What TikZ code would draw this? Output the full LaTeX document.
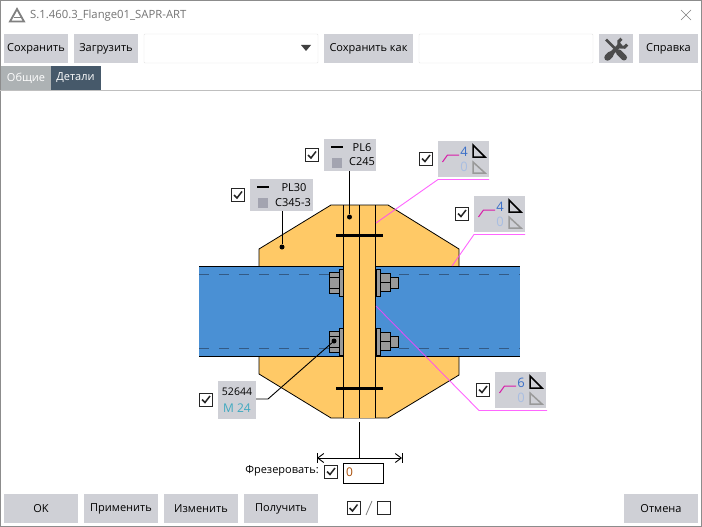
\documentclass[tikz,border=0pt]{standalone}
\usepackage{fontspec}
\setmainfont{Open Sans}
\usetikzlibrary{arrows.meta}
\definecolor{botongris}{HTML}{CFD0D6}
\definecolor{amarillo}{HTML}{FFC966}
\definecolor{azul}{HTML}{4A90D4}
\definecolor{magenta}{HTML}{FF40FF}
\definecolor{pizarra}{HTML}{46596A}
\definecolor{acero}{HTML}{A3A4B0}
\definecolor{trazo}{HTML}{335A85}
\definecolor{fucsia}{HTML}{D81BA8}
\definecolor{azulnum}{HTML}{3A6FC8}
\definecolor{azulclaro}{HTML}{A9BEE2}
\definecolor{turquesa}{HTML}{3FA9C0}
\definecolor{naranja}{HTML}{A84E08}
\tikzset{
	boton/.style={fill=botongris,inner sep=0pt,minimum height=29,font=\fontsize{11}{13}\selectfont,text=black},
	campo/.style={draw=black!10,fill=white,inner sep=0pt,rounded corners=1pt,minimum height=29},
	pestana/.style={inner sep=0pt,minimum height=24,minimum width=50,text=white,font=\fontsize{11}{13}\selectfont},
	caja/.style={fill=botongris,inner sep=0pt},
	casilla/.style={draw=black!85,line width=.8pt,fill=white,inner sep=0pt,minimum size=13},
	rotulo/.style={inner sep=0pt,font=\fontsize{11}{13}\selectfont,text=black},
	chapa/.style={draw=black,line width=.8pt,fill=amarillo},
	perno/.style={draw=black,line width=1pt,fill=black!40},
	guia/.style={magenta,line width=.9pt,opacity=.8},
	lider/.style={black,line width=.9pt},
	punto/.style={circle,fill=black,inner sep=0pt,minimum size=5},
	sello/.style={inner sep=0pt,font=\fontsize{13}{15}\selectfont}
}
\newcommand{\casillero}[3]{
	\node[casilla] (#1) at (#2,#3) {};
	\draw[line width=1.5pt,black!85] ([shift={(-4,0)}]#1.center) -- ([shift={(-1,3)}]#1.center) -- ([shift={(4,-3.5)}]#1.center);
}
\newcommand{\soldadura}[5]{
	\node[caja,minimum width=51,minimum height=36] (#1) at (#2,#3) {};
	\draw[fucsia,line width=1pt] ([shift={(-21,3)}]#1.center) -- ([shift={(-16,-4)}]#1.center) -- ([shift={(-4.5,-4)}]#1.center);
	\node[sello,text=azulnum] (#1a) at ([shift={(0.5,-7)}]#1.center) {#4};
	\node[sello,text=azulclaro] (#1b) at ([shift={(0.5,8)}]#1.center) {#5};
	\draw[black,line width=1.5pt] ([shift={(9.5,-14)}]#1.center) -- ([shift={(9.5,-2)}]#1.center) -- ([shift={(21.5,-2)}]#1.center) -- cycle;
	\draw[black!40,line width=1.5pt] ([shift={(9.5,3)}]#1.center) -- ([shift={(9.5,14)}]#1.center) -- ([shift={(21.5,14)}]#1.center) -- cycle;
}

\begin{document}
\begin{tikzpicture}[x=1pt,y=-1pt]
	\useasboundingbox (0,0) rectangle (702,527);
	\fill[white] (0,0) rectangle (702,527);
	\draw[black!45,line width=1.5pt] (0.5,527) -- (0.5,0.5) -- (701.5,0.5) -- (701.5,527);
	\draw[black!45,line width=1.5pt] (0,526.5) -- (702,526.5);

	% cabecera
	\draw[black!50,line width=1.8pt,line join=miter] (10,21.5) -- (17,9) -- (24,21.5) -- cycle;
	\draw[black!50,line width=1.6pt] (13.5,17.5) -- (20.5,17.5);
	\node[rotulo,anchor=west,text=black!55,font=\fontsize{11.3}{13}\selectfont] (titulo) at (30,16) {S.1.460.3\_Flange01\_SAPR-ART};
	\draw[black!50,line width=.6pt] (681,10) -- (691,20) (691,10) -- (681,20);

	\node[boton,minimum width=64] (guardar) at (36,48.5) {Сохранить};
	\node[boton,minimum width=64] (cargar) at (106,48.5) {Загрузить};
	\node[campo,minimum width=174] (combo) at (231,48.5) {};
	\fill[black!75] (301,45) -- (311,45) -- (306,51) -- cycle;
	\node[boton,minimum width=89] (guardarcomo) at (368.5,48.5) {Сохранить как};
	\node[campo,minimum width=174] (nombre) at (506,48.5) {};
	\node[boton,minimum width=34] (ajustes) at (616,48.5) {};
	% llave y destornillador
	\draw[black!70,line width=2.6pt] (606,39.5) -- (622,55.5);
	\draw[black!70,line width=6pt,line cap=round] (619,52.5) -- (624,57.5);
	\draw[black!70,line width=4pt] (610,55) -- (621,44);
	\draw[black!70,line width=6.5pt,line cap=round] (607.5,57.5) -- (610.5,54.5);
	\draw[black!70,line width=3pt] (621.5,38.8) arc[start angle=250,end angle=20,radius=4.5];
	\node[boton,minimum width=59] (ayuda) at (668.5,48.5) {Справка};

	\draw[black!25,line width=1pt] (0,90.5) -- (702,90.5);
	\node[pestana,fill=black!35!white!95!cyan] (generales) at (26,78) {Общие};
	\node[pestana,fill=pizarra] (detalles) at (75.5,78) {Детали};

	% chapas y viga
	\draw[chapa] (331,205) -- (388,205) -- (459,249) -- (459,375) -- (388,418) -- (331,418) -- (259,374) -- (259,249) -- cycle;
	\fill[azul] (199,266.5) rectangle (520,356.5);
	\draw[black,line width=1pt] (199,266.5) -- (520,266.5)
	(199,356.5) -- (520,356.5);
	\draw[trazo,line width=1pt,dash pattern=on 10pt off 10pt] (199,274.5) -- (520,274.5)
	(199,348.5) -- (520,348.5);
	\fill[amarillo] (343,205.5) rectangle (376,417.5);
	\draw[black,line width=1pt]
	(343.5,205) -- (343.5,418)
	(359.5,205) -- (359.5,418)
	(375.5,205) -- (375.5,418);
	\draw[black,line width=3pt]
	(336,235) -- (383,235)
	(336,388) -- (383,388);

	% pernos
	\draw[perno] (339,269) rectangle (343,296);
	\draw[perno] (329,272) rectangle (339,293)
	(329,277) -- (339,277)
	(329,288) -- (339,288);
	\draw[perno] (376,269) rectangle (380,296);
	\draw[perno] (390,277) rectangle (398,288);
	\draw[perno] (380,273) rectangle (390,291)
	(380,282) -- (390,282);
	\draw[perno] (339,328) rectangle (343,355);
	\draw[perno] (329,331) rectangle (339,352)
	(329,336) -- (339,336)
	(329,347) -- (339,347);
	\draw[perno] (376,328) rectangle (380,355);
	\draw[perno] (390,336) rectangle (398,347);
	\draw[perno] (380,332) rectangle (390,350)
	(380,341) -- (390,341);

	% rotulos
	\node[caja,minimum width=63,minimum height=32] (pl30) at (281.5,195) {};
	\draw[black,line width=1.5pt] (257,187) -- (269,187);
	\fill[acero] (258,198) rectangle (268,208);
	\node[rotulo] (pl30a) at (294,188) {PL30};
	\node[rotulo] (pl30b) at (293,203) {C345-3};
	\casillero{c1}{238}{195}
	\node[punto] (dot1) at (282,247) {};
	\draw[lider] (pl30.south -| dot1) -- (dot1);

	\node[caja,minimum width=52,minimum height=32] (pl6) at (350,155) {};
	\draw[black,line width=1.5pt] (331,147) -- (343,147);
	\fill[acero] (332,158) rectangle (342,168);
	\node[rotulo] (pl6a) at (362,148) {PL6};
	\node[rotulo] (pl6b) at (362,162) {C245};
	\casillero{c2}{312}{155}
	\node[punto] (dot2) at (349.5,217) {};
	\draw[lider] (pl6.south -| dot2) -- (dot2);

	\soldadura{s1}{463.5}{159}{4}{0}
	\casillero{c3}{426}{158.5}
	\coordinate (s1i) at (438,179.5);
	\coordinate (s1d) at (489,179.5);
	\coordinate (s1p) at (376,223);
	\draw[guia] (s1d) -- (s1i) -- (s1p);

	\soldadura{s2}{499.5}{214}{4}{0}
	\casillero{c4}{462}{213.5}
	\coordinate (s2i) at (474,234.5);
	\coordinate (s2d) at (525,234.5);
	\coordinate (s2p) at (452,266);
	\draw[guia] (s2d) -- (s2i) -- (s2p);

	\soldadura{s3}{520.5}{390}{6}{0}
	\casillero{c5}{483}{389.5}
	\coordinate (s3i) at (479,410.5);
	\coordinate (s3d) at (547,410.5);
	\coordinate (s3p) at (376,306);
	\draw[guia] (s3d) -- (s3i) -- (s3p);

	\node[caja,minimum width=38,minimum height=38] (bulon) at (237,400) {};
	\node[rotulo,font=\fontsize{10.5}{13}\selectfont] (bulona) at (237,392) {52644};
	\node[rotulo,text=turquesa,font=\fontsize{12}{13}\selectfont] (bulonb) at (237,408) {M 24};
	\casillero{c6}{206}{399.5}
	\node[punto] (dot3) at (334,341) {};
	\coordinate (codo) at (268,399);
	\draw[lider] (dot3) -- (codo) -- (bulon.east |- codo);

	% fresado
	\coordinate (cota) at (359.5,422);
	\coordinate (cotaizq) at (317,458);
	\coordinate (cotader) at (402,458);
	\draw[black,line width=.9pt] (cota) -- (359.5,459);
	\draw[black,line width=.9pt,{Straight Barb[length=6pt,width=9pt]}-{Straight Barb[length=6pt,width=9pt]}] (cotaizq) -- (cotader);
	\draw[black,line width=.9pt] (317.5,453) -- (317.5,463)
	(402,453) -- (402,463);
	\node[rotulo,anchor=east] (fresar) at (319,471) {Фрезеровать:};
	\casillero{c7}{331}{471.5}
	\node[draw=black,line width=.8pt,fill=white,inner sep=0pt,minimum width=40,minimum height=20] (profundidad) at (363,473) {};
	\node[rotulo,anchor=west,text=naranja,font=\fontsize{12}{13}\selectfont] (cero) at (346,472.5) {0};

	% botones de abajo
	\node[boton,minimum width=74] (ok) at (41,508.5) {OK};
	\node[boton,minimum width=74] (aplicar) at (121,508.5) {Применить};
	\node[boton,minimum width=74] (cambiar) at (201,508.5) {Изменить};
	\node[boton,minimum width=74] (obtener) at (281,508.5) {Получить};
	\casillero{c8}{353.5}{508}
	\draw[black!50,line width=.8pt] (366,515) -- (372,501);
	\node[casilla,line width=.6pt] (c9) at (384,508) {};
	\node[boton,minimum width=74] (cancelar) at (661,508.5) {Отмена};
\end{tikzpicture}
\end{document}
